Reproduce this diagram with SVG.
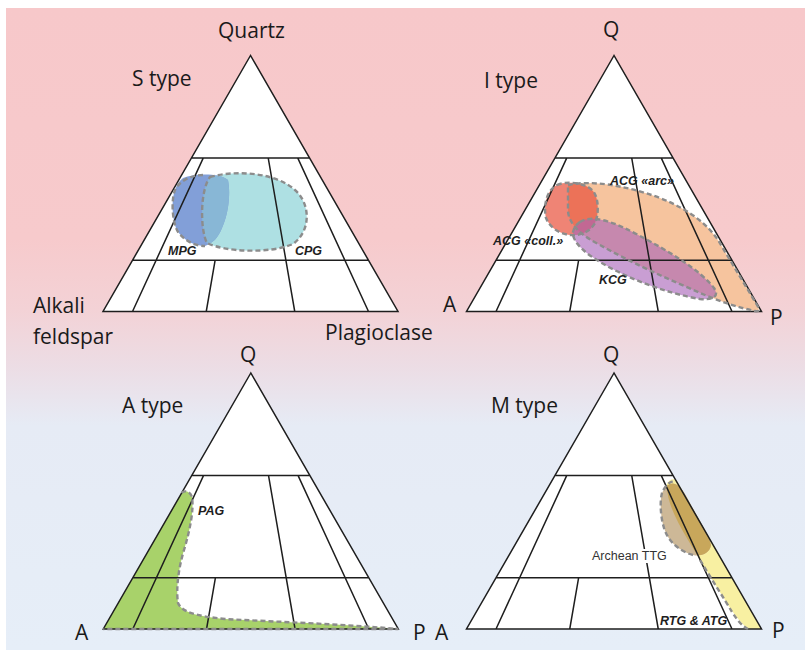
<svg xmlns="http://www.w3.org/2000/svg" xmlns:xlink="http://www.w3.org/1999/xlink" width="809" height="653" viewBox="0 0 809 653">
<style>
.tri{fill:#ffffff;stroke:none}
.ln{fill:none;stroke:#1e1e1e;stroke-width:1.5;stroke-linejoin:miter}
.dash{fill:none;stroke:#8c8c8c;stroke-width:2.4;stroke-dasharray:5 3}
.big{font-family:"Open Sans","Liberation Sans",sans-serif;font-size:21px;fill:#1a1a1a}
.fld{font-family:"Liberation Sans",Arial,sans-serif;font-size:12.5px;font-weight:bold;font-style:italic;fill:#1e1e1e}
.reg{font-family:"Liberation Sans",Arial,sans-serif;font-size:12.5px;fill:#333333}
</style>
<defs>
<linearGradient id="bg" gradientUnits="userSpaceOnUse" x1="0" y1="8" x2="0" y2="650">
<stop offset="0" stop-color="#f7c8ca"/>
<stop offset="0.36" stop-color="#f7cacc"/>
<stop offset="0.47" stop-color="#f3d2d6"/>
<stop offset="0.56" stop-color="#ecdde5"/>
<stop offset="0.65" stop-color="#e6ebf5"/>
<stop offset="1" stop-color="#e6eef8"/>
</linearGradient>
<polygon id="triShape" points="0,0 -147.5,256 147.5,256"/>
<path id="triLines" d="M0,0 L-147.5,256 L147.5,256 Z M-59,102.4 H59 M-118,204.8 H118 M-47.2,102.4 L-118,256 M17.7,102.4 L44.25,256 M47.2,102.4 L118,256 M-35.4,204.8 L-44.25,256"/>
<clipPath id="cpgClip"><path d="M210,177 C235,170 275,172 295,190 C310,203 312,230 293,244 C270,254 225,252 207,243 C200,230 200,190 210,177 Z"/></clipPath>
<clipPath id="ylwClip"><path d="M667,484 C669,479 674,478 677,481 L761.5,629 L748,629 C740,622 732,612 725,600 C712,580 700,560 688,540 C676,520 666,500 667,484 Z"/></clipPath>
</defs>
<rect x="0" y="0" width="809" height="653" fill="#ffffff"/>
<rect x="6" y="8" width="799" height="642" fill="url(#bg)"/>

<g id="s-type">
<use xlink:href="#triShape" class="tri" transform="translate(250.5,55.5)"/>
<path d="M210,177 C235,170 275,172 295,190 C310,203 312,230 293,244 C270,254 225,252 207,243 C200,230 200,190 210,177 Z" fill="#aee0e3"/>
<path d="M183,178 C195,173 220,173 228,180 C231,195 228,215 222,228 C218,238 213,243 205,246 C195,246 185,241 178,232 C172,222 171,200 175,190 C177,184 180,180 183,178 Z" fill="#829fd8"/>
<path d="M183,178 C195,173 220,173 228,180 C231,195 228,215 222,228 C218,238 213,243 205,246 C195,246 185,241 178,232 C172,222 171,200 175,190 C177,184 180,180 183,178 Z" fill="#88b7d6" clip-path="url(#cpgClip)"/>
<use xlink:href="#triLines" class="ln" transform="translate(250.5,55.5)"/>
<path class="dash" d="M210,177 C235,170 275,172 295,190 C310,203 312,230 293,244 C270,254 225,252 207,243 C200,230 200,190 210,177 Z"/>
<path class="dash" d="M203,175 C192,175 180,180 175,190 C171,200 172,222 178,232 C185,241 195,246 205,246"/>
<text class="big" x="218" y="38">Quartz</text>
<text class="big" x="132" y="86">S type</text>
<text class="big" x="33" y="313">Alkali</text>
<text class="big" x="33" y="344">feldspar</text>
<text class="big" x="325" y="340">Plagioclase</text>
<text class="fld" x="168" y="255">MPG</text>
<text class="fld" x="295" y="255">CPG</text>
</g>

<g id="i-type">
<use xlink:href="#triShape" class="tri" transform="translate(614,55.5)"/>
<path d="M568,185 C590,180 625,185 660,198 C690,210 708,225 718,240 L757,305 C760,310 759,312 755,311 C740,308 722,302 705,295 C670,280 630,262 600,245 C582,236 568,224 568,210 Z" fill="#f6c49e"/>
<path d="M557,185 C565,181 585,182 593,191 C599,198 599,215 595,223 C590,232 580,236 570,235 C560,234 550,228 546,218 C543,205 547,190 557,185 Z" fill="#e8503a" fill-opacity="0.7"/>
<path d="M580,222 C592,214 615,222 640,236 C670,252 700,270 714,288 C720,297 712,300 700,299 C670,294 630,280 600,262 C585,253 572,242 573,232 C574,227 577,224 580,222 Z" fill="#a863b8" fill-opacity="0.62"/>
<use xlink:href="#triLines" class="ln" transform="translate(614,55.5)"/>
<path class="dash" d="M568,185 C590,180 625,185 660,198 C690,210 708,225 718,240 L757,305 C760,310 759,312 755,311 C740,308 722,302 705,295 C670,280 630,262 600,245 C582,236 568,224 568,210 Z"/>
<path class="dash" d="M557,185 C565,181 585,182 593,191 C599,198 599,215 595,223 C590,232 580,236 570,235 C560,234 550,228 546,218 C543,205 547,190 557,185 Z"/>
<path class="dash" d="M580,222 C592,214 615,222 640,236 C670,252 700,270 714,288 C720,297 712,300 700,299 C670,294 630,280 600,262 C585,253 572,242 573,232 C574,227 577,224 580,222 Z"/>
<text class="big" x="603" y="37">Q</text>
<text class="big" x="484" y="88">I type</text>
<text class="big" x="443" y="312">A</text>
<text class="big" x="770" y="325">P</text>
<text class="fld" x="610" y="185">ACG «arc»</text>
<text class="fld" x="493" y="245">ACG «coll.»</text>
<text class="fld" x="599" y="284">KCG</text>
</g>

<g id="a-type">
<use xlink:href="#triShape" class="tri" transform="translate(250.8,373)"/>
<path d="M181.6,493 C184,490 190,491 192,497 C194,510 190,530 184,550 C178,570 176,590 178,603 C182,612 195,616 225,619 C280,622 340,624 398.3,629 L103.3,629 Z" fill="#a8d26a"/>
<use xlink:href="#triLines" class="ln" transform="translate(250.8,373)"/>
<path class="dash" d="M181.6,493 C184,490 190,491 192,497 C194,510 190,530 184,550 C178,570 176,590 178,603 C182,612 195,616 225,619 C280,622 340,624 398.3,629 L103.3,629"/>
<text class="big" x="240" y="362">Q</text>
<text class="big" x="122" y="413">A type</text>
<text class="big" x="75" y="640">A</text>
<text class="big" x="413" y="640">P</text>
<text class="fld" x="198" y="515">PAG</text>
</g>

<g id="m-type">
<use xlink:href="#triShape" class="tri" transform="translate(614,373)"/>
<path d="M667,484 C669,479 674,478 677,481 L761.5,629 L748,629 C740,622 732,612 725,600 C712,580 700,560 688,540 C676,520 666,500 667,484 Z" fill="#f8f0a2"/>
<path d="M670,484 C677,481 684,490 691,505 C699,520 709,535 711,545 C710,553 701,557 693,555 C681,552 668,542 664,528 C660,515 660,500 662,493 C664,488 667,485 670,484 Z" fill="#cdb897"/>
<path d="M670,484 C677,481 684,490 691,505 C699,520 709,535 711,545 C710,553 701,557 693,555 C681,552 668,542 664,528 C660,515 660,500 662,493 C664,488 667,485 670,484 Z" fill="#c8a75b" clip-path="url(#ylwClip)"/>
<use xlink:href="#triLines" class="ln" transform="translate(614,373)"/>
<path class="dash" d="M693,555 C681,552 668,542 664,528 C660,515 660,500 662,493 C664,488 668,482 674,481"/>
<path class="dash" d="M700,560 C712,580 725,600 732,612 C738,621 742,626 748,629"/>
<rect x="590" y="549" width="80" height="14" fill="#ffffff"/>
<text class="reg" x="592" y="560">Archean TTG</text>
<text class="fld" x="660" y="625">RTG &amp; ATG</text>
<text class="big" x="603" y="362">Q</text>
<text class="big" x="491" y="413">M type</text>
<text class="big" x="435" y="640">A</text>
<text class="big" x="772" y="638">P</text>
</g>
</svg>
